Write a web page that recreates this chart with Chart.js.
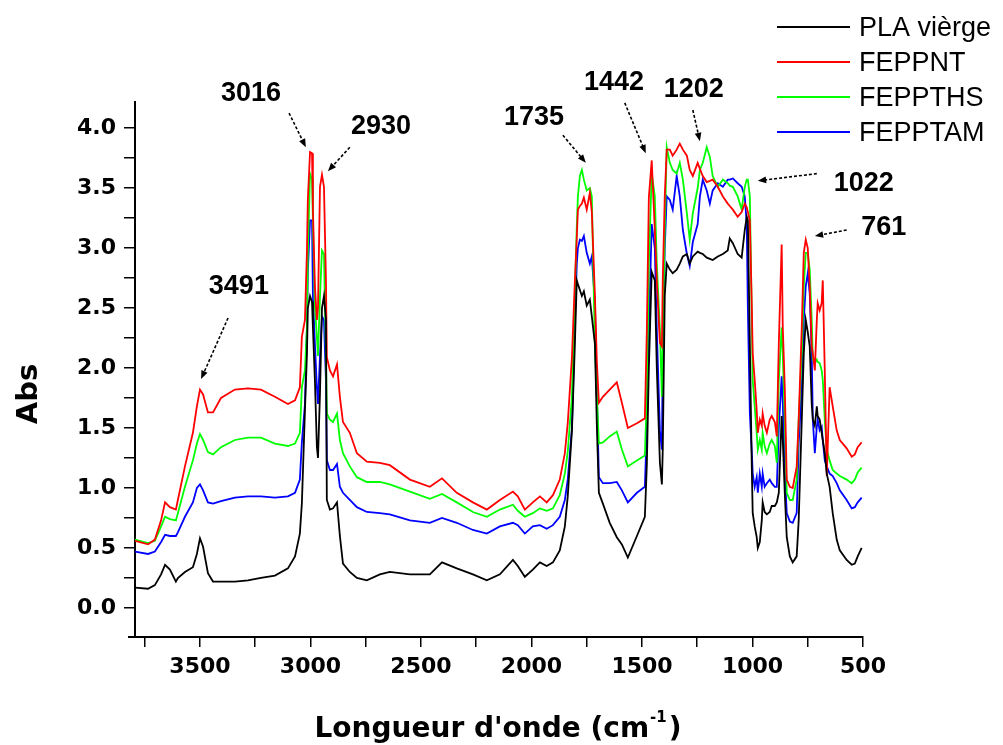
<!DOCTYPE html>
<html>
<head>
<meta charset="utf-8">
<title>Spectres IR</title>
<script src="https://cdn.jsdelivr.net/npm/chart.js@4.4.1/dist/chart.umd.min.js"></script>
<style>
  html, body { margin: 0; padding: 0; background: #fff; }
  #chart { display: block; }
</style>
</head>
<body>
<canvas id="chart" width="1003" height="745"></canvas>
<script>
// ===== Données (cm-1 / Abs) =====
const wavenumbers = [
  3794, 3735, 3704, 3676, 3658, 3636, 3609, 3600, 3568, 3532,
  3514, 3500, 3486, 3464, 3441, 3405, 3342, 3283, 3224, 3161,
  3102, 3070, 3048, 3039, 3025, 3016, 3012, 3002, 2993, 2989,
  2980, 2971, 2966, 2957, 2948, 2939, 2930, 2926, 2912, 2898,
  2880, 2867, 2853, 2822, 2790, 2745, 2686, 2641, 2550, 2460,
  2405, 2338, 2265, 2202, 2143, 2084, 2062, 2030, 1994, 1962,
  1931, 1903, 1872, 1849, 1836, 1817, 1804, 1795, 1790, 1781,
  1772, 1763, 1750, 1736, 1727, 1713, 1704, 1695, 1677, 1646,
  1614, 1591, 1564, 1523, 1487, 1478, 1469, 1456, 1442, 1433,
  1419, 1410, 1406, 1397, 1388, 1374, 1361, 1343, 1329, 1315,
  1297, 1284, 1270, 1248, 1238, 1225, 1207, 1193, 1180, 1157,
  1134, 1112, 1103, 1089, 1067, 1049, 1035, 1026, 1021, 1012,
  1003, 999, 990, 981, 976, 967, 958, 954, 945, 935,
  922, 913, 899, 890, 881, 868, 863, 854, 845, 831,
  818, 800, 791, 777, 768, 759, 750, 741, 732, 727,
  718, 709, 705, 696, 687, 682, 673, 664, 651, 637,
  619, 605, 574, 551, 537, 524, 506
];

const plaVierge = [
  0.17, 0.16, 0.19, 0.28, 0.36, 0.32, 0.22, 0.25, 0.30, 0.34,
  0.45, 0.58, 0.51, 0.29, 0.22, 0.22, 0.22, 0.23, 0.25, 0.27,
  0.33, 0.43, 0.62, 0.87, 1.65, 2.12, 2.50, 2.60, 2.55, 2.34,
  1.90, 1.34, 1.25, 1.79, 2.50, 2.60, 2.40, 0.90, 0.82, 0.83,
  0.88, 0.60, 0.37, 0.30, 0.25, 0.23, 0.28, 0.30, 0.28, 0.28,
  0.38, 0.33, 0.28, 0.23, 0.28, 0.40, 0.35, 0.26, 0.32, 0.38,
  0.35, 0.38, 0.48, 0.68, 0.93, 1.48, 2.18, 2.73, 2.70, 2.65,
  2.60, 2.64, 2.52, 2.57, 2.43, 2.20, 1.50, 0.96, 0.87, 0.71,
  0.59, 0.53, 0.42, 0.60, 0.76, 1.20, 2.00, 2.80, 2.73, 2.00,
  1.21, 1.03, 1.32, 2.60, 2.87, 2.82, 2.79, 2.82, 2.87, 2.93,
  2.95, 2.87, 2.93, 2.97, 2.96, 2.95, 2.92, 2.91, 2.90, 2.93,
  2.95, 2.98, 3.08, 3.04, 2.95, 2.92, 3.15, 3.26, 3.23, 2.20,
  1.15, 0.79, 0.68, 0.59, 0.50, 0.55, 0.73, 0.88, 0.80, 0.78,
  0.80, 0.85, 0.85, 0.88, 0.96, 1.60, 1.40, 0.96, 0.59, 0.43,
  0.38, 0.43, 0.73, 1.57, 2.12, 2.40, 2.30, 2.18, 1.70, 1.57,
  1.52, 1.68, 1.60, 1.57, 1.46, 1.40, 1.29, 1.12, 1.01, 0.79,
  0.57, 0.48, 0.40, 0.36, 0.37, 0.43, 0.50
];

const feppnt = [
  0.56, 0.53, 0.57, 0.73, 0.88, 0.84, 0.82, 0.90, 1.18, 1.46,
  1.68, 1.82, 1.78, 1.63, 1.63, 1.75, 1.82, 1.83, 1.82, 1.76,
  1.70, 1.73, 1.84, 2.26, 2.40, 2.98, 3.40, 3.80, 3.79, 3.32,
  2.68, 2.40, 2.50, 3.51, 3.61, 3.51, 2.73, 2.09, 1.98, 1.93,
  2.03, 1.76, 1.55, 1.46, 1.29, 1.22, 1.21, 1.19, 1.07, 1.01,
  1.08, 0.96, 0.88, 0.82, 0.90, 0.97, 0.93, 0.82, 0.88, 0.93,
  0.88, 0.94, 1.07, 1.29, 1.54, 2.09, 2.71, 3.09, 3.32, 3.35,
  3.37, 3.42, 3.32, 3.46, 3.30, 2.60, 2.04, 1.71, 1.76, 1.82,
  1.88, 1.71, 1.50, 1.54, 1.58, 2.32, 3.42, 3.73, 3.15, 2.73,
  2.21, 2.18, 2.73, 3.43, 3.82, 3.82, 3.77, 3.82, 3.87, 3.82,
  3.77, 3.65, 3.60, 3.71, 3.66, 3.60, 3.55, 3.56, 3.57, 3.51,
  3.43, 3.37, 3.35, 3.32, 3.26, 3.30, 3.37, 3.34, 3.30, 3.23,
  2.50, 2.12, 1.90, 1.65, 1.46, 1.57, 1.52, 1.62, 1.52, 1.46,
  1.57, 1.60, 1.55, 1.43, 2.20, 3.03, 2.34, 1.84, 1.07, 1.01,
  1.00, 1.18, 1.57, 2.34, 2.96, 3.07, 3.00, 2.68, 2.18, 2.12,
  1.98, 2.40, 2.54, 2.48, 2.54, 2.73, 1.98, 1.10, 1.84, 1.68,
  1.48, 1.40, 1.33, 1.26, 1.28, 1.34, 1.38
];

const feppths = [
  0.57, 0.54, 0.56, 0.68, 0.76, 0.74, 0.73, 0.79, 1.01, 1.23,
  1.37, 1.45, 1.40, 1.30, 1.28, 1.34, 1.40, 1.42, 1.42, 1.37,
  1.35, 1.37, 1.46, 1.84, 1.98, 2.34, 2.96, 3.62, 3.57, 3.23,
  2.51, 2.26, 2.10, 2.60, 2.98, 2.95, 2.12, 1.62, 1.57, 1.55,
  1.62, 1.40, 1.29, 1.18, 1.09, 1.05, 1.05, 1.03, 0.97, 0.91,
  0.95, 0.88, 0.80, 0.76, 0.82, 0.86, 0.81, 0.76, 0.79, 0.83,
  0.81, 0.83, 0.94, 1.12, 1.30, 1.76, 2.60, 3.18, 3.43, 3.60,
  3.65, 3.57, 3.48, 3.50, 3.43, 2.18, 1.76, 1.37, 1.38, 1.43,
  1.47, 1.32, 1.18, 1.23, 1.27, 1.76, 2.87, 3.62, 3.43, 2.87,
  2.32, 1.76, 2.20, 3.15, 3.84, 3.71, 3.65, 3.62, 3.71, 3.57,
  3.29, 3.07, 3.29, 3.50, 3.65, 3.71, 3.84, 3.76, 3.60, 3.51,
  3.57, 3.54, 3.52, 3.51, 3.43, 3.32, 3.51, 3.57, 3.57, 3.43,
  2.40, 1.90, 1.68, 1.46, 1.32, 1.40, 1.32, 1.46, 1.35, 1.29,
  1.37, 1.40, 1.35, 1.21, 1.90, 2.34, 2.12, 1.57, 0.96, 0.90,
  0.90, 1.07, 1.57, 2.12, 2.68, 2.96, 2.96, 2.82, 2.40, 2.07,
  2.04, 2.07, 2.05, 2.04, 1.98, 1.90, 1.57, 1.32, 1.23, 1.15,
  1.12, 1.10, 1.07, 1.04, 1.07, 1.13, 1.17
];

const fepptam = [
  0.47, 0.45, 0.47, 0.55, 0.61, 0.60, 0.60, 0.63, 0.76, 0.88,
  1.00, 1.03, 0.98, 0.88, 0.87, 0.89, 0.92, 0.93, 0.93, 0.92,
  0.93, 0.96, 1.07, 1.38, 1.70, 2.33, 2.80, 3.23, 3.23, 2.60,
  2.20, 1.84, 1.70, 2.10, 2.43, 2.40, 1.90, 1.23, 1.15, 1.15,
  1.20, 1.01, 0.96, 0.90, 0.84, 0.80, 0.79, 0.78, 0.73, 0.71,
  0.75, 0.71, 0.65, 0.62, 0.68, 0.71, 0.69, 0.62, 0.68, 0.69,
  0.66, 0.69, 0.76, 0.90, 1.07, 1.50, 2.37, 2.87, 3.00, 3.07,
  3.06, 3.10, 2.96, 2.87, 2.93, 2.54, 1.76, 1.09, 1.04, 1.04,
  1.05, 0.98, 0.88, 0.96, 1.01, 1.50, 2.32, 3.20, 3.00, 2.32,
  1.48, 1.32, 2.10, 3.00, 3.43, 3.40, 3.32, 3.60, 3.43, 3.15,
  2.95, 2.85, 3.05, 3.20, 3.43, 3.57, 3.48, 3.37, 3.48, 3.54,
  3.51, 3.57, 3.57, 3.58, 3.54, 3.51, 3.43, 3.20, 2.50, 1.62,
  1.29, 1.12, 1.01, 1.09, 0.96, 1.12, 1.01, 1.12, 1.01, 1.04,
  1.07, 1.04, 1.01, 1.01, 1.50, 1.93, 1.71, 1.15, 0.79, 0.72,
  0.71, 0.79, 1.37, 1.84, 2.40, 2.68, 2.79, 2.62, 2.12, 1.57,
  1.29, 1.51, 1.57, 1.48, 1.51, 1.40, 1.23, 1.18, 1.12, 1.10,
  1.04, 0.98, 0.90, 0.83, 0.84, 0.88, 0.92
];

const seriesNames = ["PLA vièrge", "FEPPNT", "FEPPTHS", "FEPPTAM"];
const seriesColors = ["#000000", "#ff0000", "#00ff00", "#0000ff"];
const seriesValues = [plaVierge, feppnt, feppths, fepptam];

const xTickValues = [500, 750, 1000, 1250, 1500, 1750, 2000, 2250, 2500, 2750, 3000, 3250, 3500, 3750];
const xTickLabels = ["500", "", "1000", "", "1500", "", "2000", "", "2500", "", "3000", "", "3500", ""];
const yTickValues = [0, 0.25, 0.5, 0.75, 1, 1.25, 1.5, 1.75, 2, 2.25, 2.5, 2.75, 3, 3.25, 3.5, 3.75, 4];
const yTickLabels = ["0.0", "", "0.5", "", "1.0", "", "1.5", "", "2.0", "", "2.5", "", "3.0", "", "3.5", "", "4.0"];

// pics annotés : texte, position du texte, début et pointe de la flèche (cm-1, Abs)
const peakLabels = ["3491", "3016", "2930", "1735", "1442", "1202", "1022", "761"];
const labelAt = [[3324, 2.675], [3269, 4.29], [2681, 4.01], [1989, 4.09], [1627, 4.38], [1266, 4.32], [497, 3.54], [406, 3.17]];
const arrowFrom = [[3373, 2.417], [3097, 4.125], [2822, 3.84], [1858, 3.94], [1578, 4.21], [1270, 4.15], [709, 3.62], [574, 3.15]];
const arrowTo = [[3495, 1.908], [3021, 3.84], [2921, 3.64], [1754, 3.71], [1483, 3.79], [1238, 3.89], [976, 3.56], [718, 3.10]];

// ===== Fonctions auxiliaires =====
function drawArrow(ctx, x1, y1, x2, y2) {
  const ang = Math.atan2(y2 - y1, x2 - x1);
  const head = 9;
  ctx.save();
  ctx.lineWidth = 1.6;
  ctx.setLineDash([3, 2]);
  ctx.beginPath();
  ctx.moveTo(x1, y1);
  ctx.lineTo(x2 - Math.cos(ang) * head * 0.6, y2 - Math.sin(ang) * head * 0.6);
  ctx.stroke();
  ctx.setLineDash([]);
  ctx.beginPath();
  ctx.moveTo(x2, y2);
  ctx.lineTo(x2 - head * Math.cos(ang - 0.38), y2 - head * Math.sin(ang - 0.38));
  ctx.lineTo(x2 - head * Math.cos(ang + 0.38), y2 - head * Math.sin(ang + 0.38));
  ctx.closePath();
  ctx.fill();
  ctx.restore();
}

const overlay = {
  id: "overlay",
  afterDraw(chart) {
    const ctx = chart.ctx;
    const xs = chart.scales.x;
    const ys = chart.scales.y;
    ctx.save();
    ctx.fillStyle = "#000";
    ctx.strokeStyle = "#000";

    // petit prolongement de l'axe x vers la gauche
    ctx.lineWidth = 2;
    ctx.beginPath();
    ctx.moveTo(xs.left - 7, ys.bottom);
    ctx.lineTo(xs.left, ys.bottom);
    ctx.stroke();

    // annotations des pics
    ctx.font = "bold 27px 'Liberation Sans', Arial, sans-serif";
    ctx.textAlign = "center";
    ctx.textBaseline = "middle";
    peakLabels.forEach((txt, i) => {
      ctx.fillText(txt, xs.getPixelForValue(labelAt[i][0]), ys.getPixelForValue(labelAt[i][1]));
      drawArrow(ctx,
        xs.getPixelForValue(arrowFrom[i][0]), ys.getPixelForValue(arrowFrom[i][1]),
        xs.getPixelForValue(arrowTo[i][0]), ys.getPixelForValue(arrowTo[i][1]));
    });

    // légende
    ctx.font = "27px 'Liberation Sans', Arial, sans-serif";
    ctx.textAlign = "left";
    ctx.textBaseline = "alphabetic";
    chart.data.datasets.forEach((ds, i) => {
      const y = 27 + i * 35;
      ctx.strokeStyle = ds.borderColor;
      ctx.lineWidth = 1.8;
      ctx.beginPath();
      ctx.moveTo(777, y);
      ctx.lineTo(850, y);
      ctx.stroke();
      ctx.fillStyle = "#000";
      ctx.fillText(ds.label, 859, y + 9);
    });

    // titres des axes
    ctx.font = "bold 29px 'DejaVu Sans', sans-serif";
    ctx.textAlign = "center";
    ctx.textBaseline = "middle";
    ctx.save();
    ctx.translate(29, 394);
    ctx.rotate(-Math.PI / 2);
    ctx.fillText("Abs", 0, 0);
    ctx.restore();

    const main = "Longueur d'onde (cm";
    const sup = "-1";
    const close = ")";
    ctx.textAlign = "left";
    ctx.textBaseline = "alphabetic";
    const bigFont = "bold 28px 'DejaVu Sans', sans-serif";
    const supFont = "bold 15px 'DejaVu Sans', sans-serif";
    ctx.font = bigFont;
    const wMain = ctx.measureText(main).width;
    const wClose = ctx.measureText(close).width;
    ctx.font = supFont;
    const wSup = ctx.measureText(sup).width;
    let x = 498 - (wMain + wSup + 3 + wClose) / 2;
    const base = 737;
    ctx.font = bigFont;
    ctx.fillText(main, x, base);
    x += wMain + 1;
    ctx.font = supFont;
    ctx.fillText(sup, x, base - 15);
    x += wSup + 2;
    ctx.font = bigFont;
    ctx.fillText(close, x, base);

    ctx.restore();
  }
};

const tickFont = { family: "'DejaVu Sans', sans-serif", size: 22, weight: "bold" };

new Chart(document.getElementById("chart"), {
  type: "line",
  data: {
    datasets: seriesValues.map((vals, i) => ({
      label: seriesNames[i],
      data: wavenumbers.map((w, j) => ({ x: w, y: vals[j] })),
      borderColor: seriesColors[i],
      borderWidth: 1.8,
      pointRadius: 0,
      tension: 0,
      fill: false
    }))
  },
  options: {
    responsive: false,
    animation: false,
    events: [],
    layout: { padding: { top: 102, right: 140, left: 0, bottom: 0 } },
    plugins: { legend: { display: false }, tooltip: { enabled: false } },
    scales: {
      x: {
        type: "linear",
        reverse: true,
        min: 500,
        max: 3794,
        afterBuildTicks: s => { s.ticks = xTickValues.map(v => ({ value: v })); },
        afterFit: s => { s.height = 108; },
        grid: { drawOnChartArea: false, drawTicks: true, tickLength: 10, color: "#000", lineWidth: 1.5 },
        border: { display: true, color: "#000", width: 2 },
        ticks: {
          autoSkip: false, maxRotation: 0, padding: 7, color: "#000", font: tickFont,
          callback: (v, i) => xTickLabels[i]
        }
      },
      y: {
        type: "linear",
        min: -0.242,
        max: 4.217,
        afterBuildTicks: s => { s.ticks = yTickValues.map(v => ({ value: v })); },
        afterFit: s => { s.width = 135; },
        grid: { drawOnChartArea: false, drawTicks: true, tickLength: 11, color: "#000", lineWidth: 1.5 },
        border: { display: true, color: "#000", width: 2 },
        ticks: {
          autoSkip: false, padding: 8, color: "#000", font: tickFont,
          callback: (v, i) => yTickLabels[i]
        }
      }
    }
  },
  plugins: [overlay]
});
</script>
</body>
</html>
